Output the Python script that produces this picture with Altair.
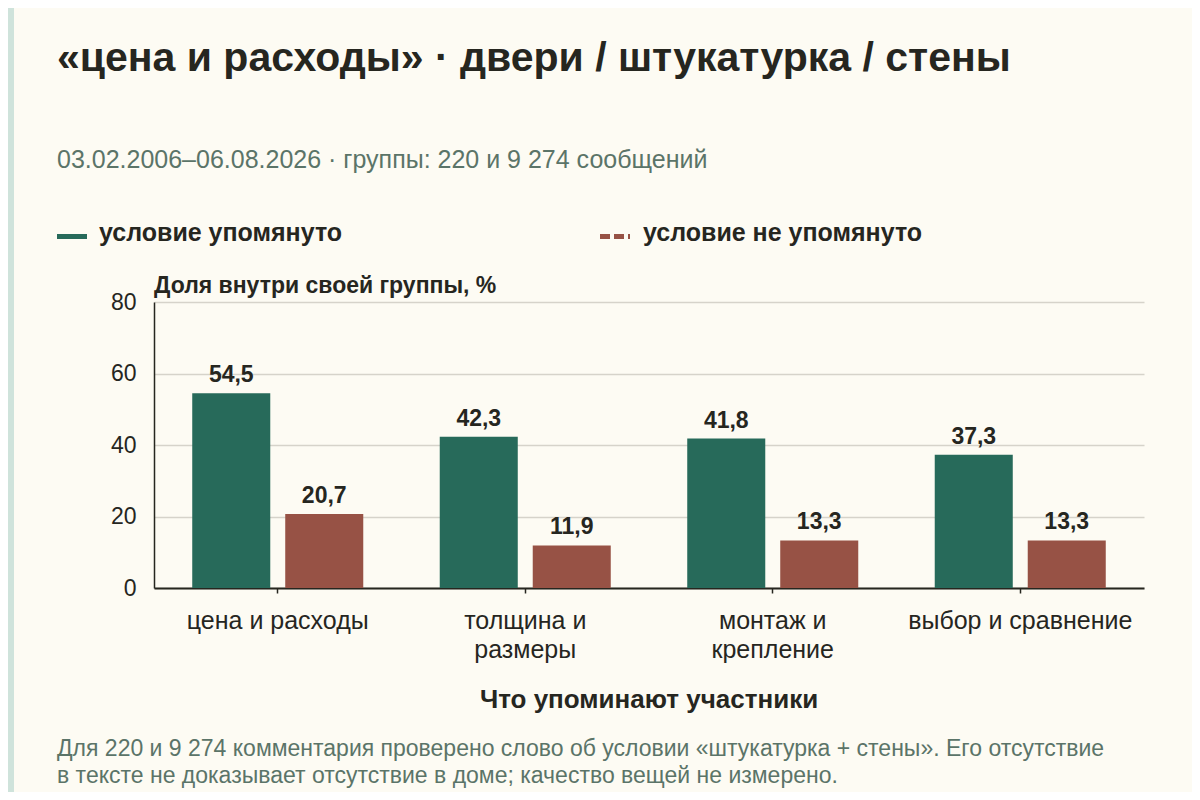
import altair as alt
import pandas as pd

categories = ["цена и расходы", "толщина и размеры", "монтаж и крепление", "выбор и сравнение"]
mentioned = [54.5, 42.3, 41.8, 37.3]
not_mentioned = [20.7, 11.9, 13.3, 13.3]
series = ["условие упомянуто", "условие не упомянуто"]
colors = ["#276a5a", "#975245"]
y_ticks = [0, 20, 40, 60, 80]

title_text = "«цена и расходы» · двери / штукатурка / стены"
subtitle_text = "03.02.2006–06.08.2026 · группы: 220 и 9 274 сообщений"
y_title = "Доля внутри своей группы, %"
x_title = "Что упоминают участники"
note_lines = [
    "Для 220 и 9 274 комментария проверено слово об условии «штукатурка + стены». Его отсутствие",
    "в тексте не доказывает отсутствие в доме; качество вещей не измерено.",
]

rows = []
for c, a, b in zip(categories, mentioned, not_mentioned):
    rows.append({"cat": c, "series": series[0], "value": a})
    rows.append({"cat": c, "series": series[1], "value": b})
df = pd.DataFrame(rows)
df["label"] = df["value"].map(lambda v: f"{v:.1f}".replace(".", ","))

FONT = "Liberation Sans"
BG = "#fdfbf3"
TEXT = "#26261f"
MUTED = "#5b7468"

W, H = 990, 286
PAD_L, PAD_T = 146, 294
TOTAL_W, TOTAL_H = 1184, 784

label_expr = (
    "datum.label == 'толщина и размеры' ? ['толщина и', 'размеры'] : "
    "datum.label == 'монтаж и крепление' ? ['монтаж и', 'крепление'] : datum.label"
)

x_enc = alt.X(
    "cat:N",
    sort=categories,
    scale=alt.Scale(paddingInner=0.309, paddingOuter=0.1545),
    axis=alt.Axis(
        title=None,
        labelExpr=label_expr,
        labelAngle=0,
        labelFontSize=25,
        labelFont=FONT,
        labelColor=TEXT,
        labelLineHeight=29,
        labelPadding=15,
        labelLimit=400,
        tickSize=5,
        tickColor=TEXT,
        tickWidth=1.5,
        domainColor=TEXT,
        domainWidth=2,
        grid=False,
    ),
)
xoff_enc = alt.XOffset(
    "series:N",
    sort=series,
    scale=alt.Scale(paddingInner=0.161, paddingOuter=0),
)
y_enc = alt.Y(
    "value:Q",
    scale=alt.Scale(domain=[0, 80], nice=False),
    axis=alt.Axis(
        title=None,
        values=y_ticks,
        labelFontSize=23,
        labelFont=FONT,
        labelColor=TEXT,
        labelPadding=18,
        tickSize=0,
        domainColor=TEXT,
        domainWidth=1.5,
        gridColor="#d6d3ca",
        gridWidth=1.5,
    ),
)
color_enc = alt.Color(
    "series:N",
    sort=series,
    scale=alt.Scale(domain=series, range=colors),
    legend=None,
)

base = alt.Chart(df)
bars = base.mark_bar().encode(x=x_enc, xOffset=xoff_enc, y=y_enc, color=color_enc)
labels = base.mark_text(
    baseline="bottom", dy=-6, fontSize=23, fontWeight="bold", font=FONT, color=TEXT
).encode(x=alt.X("cat:N", sort=categories), xOffset=alt.XOffset("series:N", sort=series),
         y="value:Q", text="label:N")

one = pd.DataFrame({"a": [0]})


def txt(text, x, y, size, weight="normal", color=TEXT, align="left"):
    return alt.Chart(one).mark_text(
        text=text, fontSize=size, fontWeight=weight, font=FONT, color=color,
        align=align, baseline="alphabetic",
    ).encode(x=alt.value(x), y=alt.value(y))


title = txt(title_text, -97, -231, 41, "bold")
subtitle = txt(subtitle_text, -97, -134, 25, color=MUTED)
ytitle = txt(y_title, 0, -9, 23, "bold")
xtitle = txt(x_title, W / 2, 406, 26, "bold", align="center")
note1 = txt(note_lines[0], -97, 454, 23, color=MUTED)
note2 = txt(note_lines[1], -97, 481, 23, color=MUTED)

leg1_line = alt.Chart(one).mark_rule(color=colors[0], strokeWidth=5).encode(
    x=alt.value(-97), x2=alt.value(-67), y=alt.value(-65.5))
leg2_line = alt.Chart(one).mark_rule(color=colors[1], strokeWidth=5, strokeDash=[10, 4]).encode(
    x=alt.value(446), x2=alt.value(476), y=alt.value(-65.5))
leg1_txt = txt(series[0], -55, -61, 25, "bold")
leg2_txt = txt(series[1], 489, -61, 25, "bold")

strip = alt.Chart(one).mark_rect(color="#cfe3db").encode(
    x=alt.value(-PAD_L), x2=alt.value(-PAD_L + 6), y=alt.value(-PAD_T), y2=alt.value(TOTAL_H - PAD_T))

chart = alt.layer(
    strip, bars, labels, title, subtitle, ytitle, xtitle, note1, note2,
    leg1_line, leg2_line, leg1_txt, leg2_txt,
).properties(
    width=W, height=H,
    autosize=alt.AutoSizeParams(type="none"),
    padding={"left": PAD_L, "top": PAD_T, "right": TOTAL_W - PAD_L - W, "bottom": TOTAL_H - PAD_T - H},
    background=BG,
).configure_view(stroke=None).configure_axis(labelFont=FONT)

chart.save("out.html", embed_options={"renderer": "svg", "actions": False})
